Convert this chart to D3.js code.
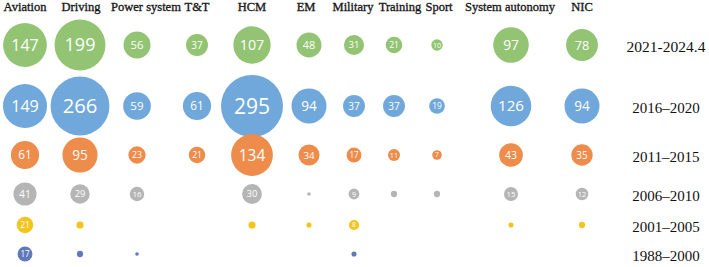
<!DOCTYPE html>
<html>
<head>
<meta charset="utf-8">
<script src="https://cdn.jsdelivr.net/npm/d3@7"></script>
<style>
  html, body { margin: 0; padding: 0; background: #ffffff; }
  svg { display: block; }
</style>
</head>
<body>
<svg id="chart" width="709" height="267"></svg>
<script>
// ---- data ----
const categories = ["Aviation", "Driving", "Power system", "T&T", "HCM", "EM", "Military", "Training", "Sport", "System autonomy", "NIC"];
const periods = ["2021-2024.4", "2016–2020", "2011–2015", "2006–2010", "2001–2005", "1988–2000"];
const v2021 = [147, 199, 56, 37, 107, 48, 31, 21, 10, 97, 78];
const v2016 = [149, 266, 59, 61, 295, 94, 37, 37, 19, 126, 94];
const v2011 = [61, 95, 23, 21, 134, 34, 17, 11, 7, 43, 35];
const v2006 = [41, 29, 16, null, 30, 1, 9, 3, 3, 15, 12];
const v2001 = [21, 4, null, null, 4, 2, 8, null, null, 2, 3];
const v1988 = [17, 3, 1, null, null, null, 2, null, null, null, null];
const seriesValues = [v2021, v2016, v2011, v2006, v2001, v1988];

// ---- layout (not data) ----
const colX = [25, 80, 137, 197, 252, 309, 354, 394, 437, 511, 582];
const headerX = [25, 81, 146, 197, 252, 306, 353, 400, 439, 510, 582];
const rowY = [45, 106, 155, 194, 225, 254];
const rowColors = ["#92c473", "#70a8dc", "#ed8c4b", "#b5b5b5", "#f4c41e", "#6079bd"];

const svg = d3.select("#chart");
const x = d3.scaleOrdinal().domain(categories).range(colX);
const xHead = d3.scaleOrdinal().domain(categories).range(headerX);
const y = d3.scaleOrdinal().domain(periods).range(rowY);
const color = d3.scaleOrdinal().domain(periods).range(rowColors);
const r = d3.scaleSqrt().domain([0, 295]).range([0, 31]);

// headers
svg.append("g").selectAll("text").data(categories).join("text")
  .attr("x", d => xHead(d))
  .attr("y", 11)
  .attr("text-anchor", "middle")
  .attr("font-family", "'Liberation Serif', 'Times New Roman', serif")
  .attr("font-size", 12.5)
  .attr("fill", "#1a1a1a")
  .attr("stroke", "#1a1a1a")
  .attr("stroke-width", 0.35)
  .text(d => d);

// row labels
svg.append("g").selectAll("text").data(periods).join("text")
  .attr("x", 666)
  .attr("y", d => y(d) + 7)
  .attr("text-anchor", "middle")
  .attr("font-family", "'Liberation Serif', 'Times New Roman', serif")
  .attr("font-size", (d, i) => i === 0 ? 15.5 : 15)
  .attr("fill", "#111")
  .text(d => d);

// flatten cells
const cells = [];
periods.forEach((p, i) => {
  seriesValues[i].forEach((v, j) => {
    if (v != null) cells.push({ period: p, cat: categories[j], value: v });
  });
});

const g = svg.append("g").selectAll("g").data(cells).join("g")
  .attr("transform", d => `translate(${x(d.cat)},${y(d.period)})`);

g.append("circle")
  .attr("r", d => r(d.value))
  .attr("fill", d => color(d.period));

g.filter(d => d.value >= 7).append("text")
  .attr("text-anchor", "middle")
  .attr("dy", "0.36em")
  .attr("font-family", "'Open Sans', 'Noto Sans', sans-serif")
  .attr("font-size", d => 4 + 0.55 * r(d.value))
  .attr("fill", "#ffffff")
  .text(d => d.value);
</script>
</body>
</html>
